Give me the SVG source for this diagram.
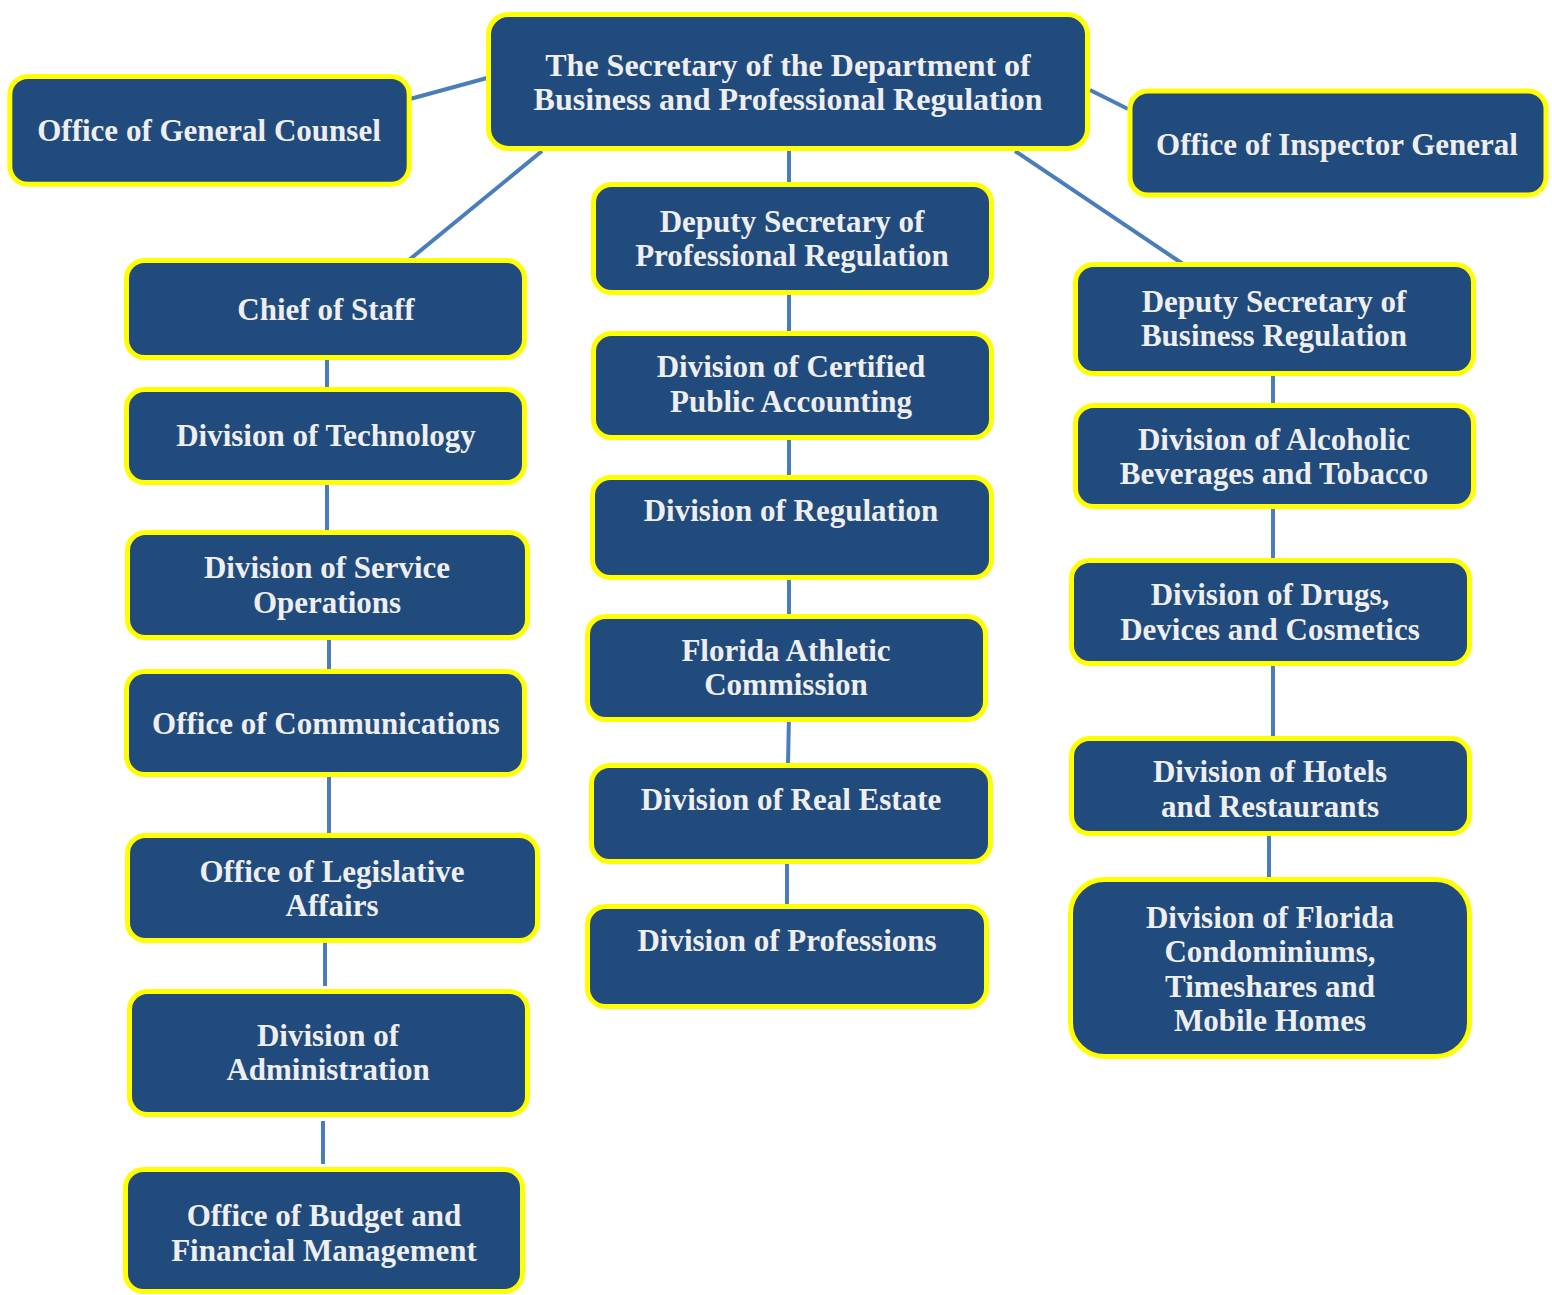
<svg xmlns="http://www.w3.org/2000/svg" width="1552" height="1295" viewBox="0 0 1552 1295">
<style>
.box{fill:#214A7D;stroke:#FFFF00;stroke-width:5}
.lbl{font-family:"Liberation Serif","Times New Roman",serif;font-weight:bold;font-size:31px;fill:#EEEEEE;text-anchor:middle}
.big{font-size:32px}
.con line{stroke:#4A7EBB;stroke-width:4;fill:none}
</style>
<rect width="1552" height="1295" fill="#FFFFFF"/>
<g class="con" id="connectors">
<line x1="487" y1="78" x2="410" y2="99"/>
<line x1="1090" y1="90" x2="1128" y2="109"/>
<line x1="542" y1="151" x2="409" y2="260"/>
<line x1="789" y1="151" x2="789" y2="185"/>
<line x1="1015" y1="151" x2="1183" y2="264"/>
<line x1="327" y1="357" x2="327" y2="391"/>
<line x1="327" y1="482" x2="327" y2="532"/>
<line x1="329" y1="638" x2="329" y2="672"/>
<line x1="329" y1="777" x2="329" y2="835"/>
<line x1="325" y1="943" x2="325" y2="986"/>
<line x1="323" y1="1121" x2="323" y2="1164"/>
<line x1="789" y1="293" x2="789" y2="334"/>
<line x1="789" y1="438" x2="789" y2="478"/>
<line x1="789" y1="578" x2="789" y2="617"/>
<line x1="789" y1="715" x2="788" y2="764"/>
<line x1="787" y1="864" x2="787" y2="905"/>
<line x1="1273" y1="374" x2="1273" y2="406"/>
<line x1="1273" y1="507" x2="1273" y2="561"/>
<line x1="1273" y1="664" x2="1273" y2="739"/>
<line x1="1269" y1="833" x2="1269" y2="899"/>
</g>
<g id="secretary"><rect class="box" x="488.5" y="14.5" width="599" height="134" rx="20"/><text class="lbl big" x="788" y="76">The Secretary of the Department of</text><text class="lbl big" x="788" y="110">Business and Professional Regulation</text></g>
<g id="general-counsel"><rect class="box" x="9.8" y="76.5" width="399.4" height="107.7" rx="18"/><text class="lbl" x="209" y="141">Office of General Counsel</text></g>
<g id="inspector-general"><rect class="box" x="1130" y="91" width="416" height="104" rx="18"/><text class="lbl" x="1337" y="155">Office of Inspector General</text></g>
<g id="chief-of-staff"><rect class="box" x="126.5" y="260.5" width="398" height="97" rx="18"/><text class="lbl" x="326" y="320">Chief of Staff</text></g>
<g id="technology"><rect class="box" x="126.5" y="389.5" width="398" height="93" rx="18"/><text class="lbl" x="326" y="446">Division of Technology</text></g>
<g id="service-operations"><rect class="box" x="127.5" y="532.5" width="400" height="105" rx="18"/><text class="lbl" x="327" y="578">Division of Service</text><text class="lbl" x="327" y="613">Operations</text></g>
<g id="communications"><rect class="box" x="126.5" y="671.5" width="398" height="103" rx="18"/><text class="lbl" x="326" y="734">Office of Communications</text></g>
<g id="legislative-affairs"><rect class="box" x="127.5" y="835.5" width="410" height="105" rx="18"/><text class="lbl" x="332" y="882">Office of Legislative</text><text class="lbl" x="332" y="916">Affairs</text></g>
<g id="administration"><rect class="box" x="129.5" y="991.5" width="398" height="123" rx="18"/><text class="lbl" x="328" y="1046">Division of</text><text class="lbl" x="328" y="1080">Administration</text></g>
<g id="budget"><rect class="box" x="125.5" y="1169.5" width="397" height="122" rx="18"/><text class="lbl" x="324" y="1226">Office of Budget and</text><text class="lbl" x="324" y="1261">Financial Management</text></g>
<g id="deputy-professional"><rect class="box" x="593.5" y="184.5" width="398" height="108" rx="18"/><text class="lbl" x="792" y="232">Deputy Secretary of</text><text class="lbl" x="792" y="266">Professional Regulation</text></g>
<g id="cpa"><rect class="box" x="593.5" y="333.5" width="398" height="104" rx="18"/><text class="lbl" x="791" y="377">Division of Certified</text><text class="lbl" x="791" y="412">Public Accounting</text></g>
<g id="regulation"><rect class="box" x="592.5" y="477.5" width="399" height="100" rx="18"/><text class="lbl" x="791" y="521">Division of Regulation</text></g>
<g id="athletic"><rect class="box" x="587.5" y="616.5" width="398" height="103" rx="18"/><text class="lbl" x="786" y="661">Florida Athletic</text><text class="lbl" x="786" y="695">Commission</text></g>
<g id="real-estate"><rect class="box" x="591.5" y="765.5" width="399" height="96" rx="18"/><text class="lbl" x="791" y="810">Division of Real Estate</text></g>
<g id="professions"><rect class="box" x="587.5" y="906.5" width="399" height="100" rx="18"/><text class="lbl" x="787" y="951">Division of Professions</text></g>
<g id="deputy-business"><rect class="box" x="1075.5" y="264.5" width="398" height="109" rx="18"/><text class="lbl" x="1274" y="312">Deputy Secretary of</text><text class="lbl" x="1274" y="346">Business Regulation</text></g>
<g id="alcoholic"><rect class="box" x="1075.5" y="405.5" width="398" height="101" rx="18"/><text class="lbl" x="1274" y="450">Division of Alcoholic</text><text class="lbl" x="1274" y="484">Beverages and Tobacco</text></g>
<g id="drugs"><rect class="box" x="1071.5" y="560.5" width="398" height="103" rx="18"/><text class="lbl" x="1270" y="605">Division of Drugs,</text><text class="lbl" x="1270" y="640">Devices and Cosmetics</text></g>
<g id="hotels"><rect class="box" x="1071.5" y="738.5" width="398" height="95" rx="18"/><text class="lbl" x="1270" y="782">Division of Hotels</text><text class="lbl" x="1270" y="817">and Restaurants</text></g>
<g id="condominiums"><rect class="box" x="1070.5" y="879.5" width="399" height="177" rx="34"/><text class="lbl" x="1270" y="928">Division of Florida</text><text class="lbl" x="1270" y="962">Condominiums,</text><text class="lbl" x="1270" y="997">Timeshares and</text><text class="lbl" x="1270" y="1031">Mobile Homes</text></g>
</svg>
